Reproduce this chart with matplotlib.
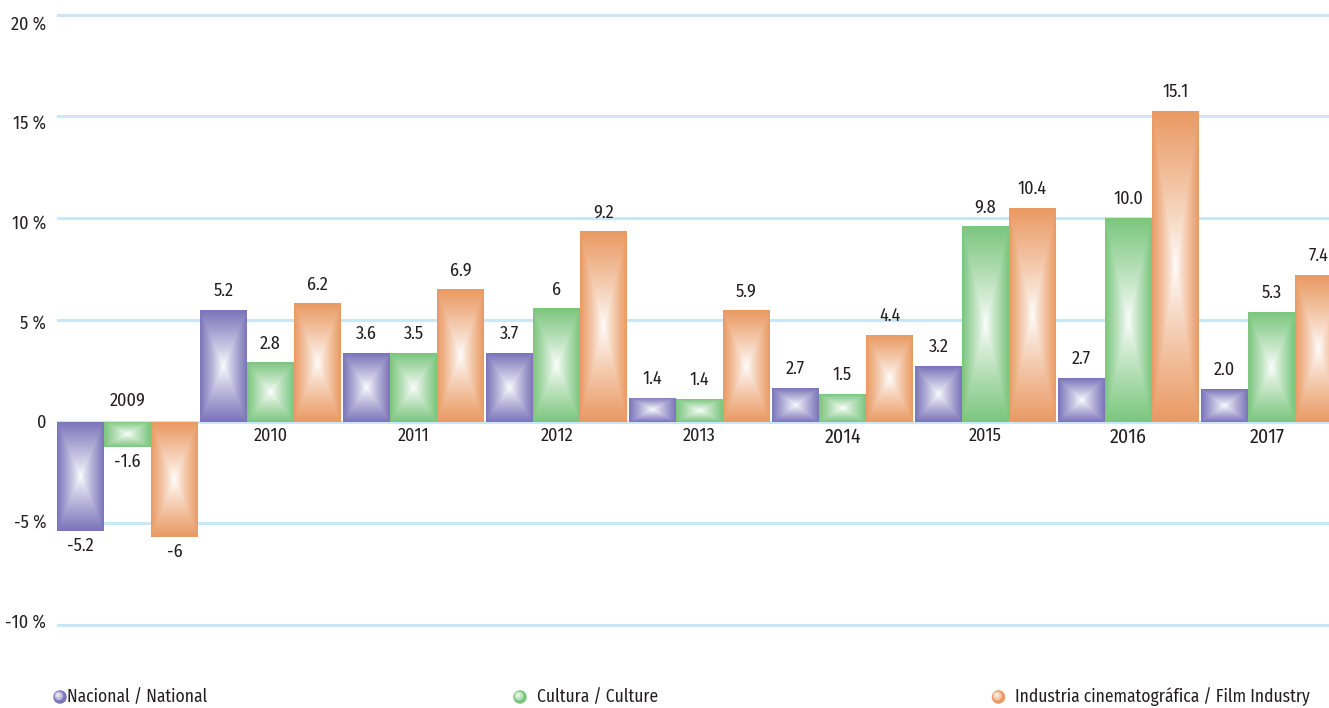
import numpy as np
import matplotlib
matplotlib.use("Agg")
import matplotlib.pyplot as plt
from matplotlib import font_manager
from matplotlib.transforms import blended_transform_factory, offset_copy
from matplotlib.colors import to_rgb

# ---------------- data ----------------
years = ["2009", "2010", "2011", "2012", "2013", "2014", "2015", "2016", "2017"]
series_names = ["Nacional / National", "Cultura / Culture",
                "Industria cinematográfica / Film Industry"]
# bar heights as drawn in the reference (%)
nacional = [-5.36, 5.49, 3.38, 3.38, 1.18, 1.66, 2.74, 2.15, 1.61]
cultura = [-1.23, 2.93, 3.38, 5.58, 1.12, 1.36, 9.62, 10.02, 5.40]
cine = [-5.65, 5.83, 6.52, 9.37, 5.49, 4.26, 10.50, 15.27, 7.21]
# value labels printed on the reference
nacional_lbl = ["-5.2", "5.2", "3.6", "3.7", "1.4", "2.7", "3.2", "2.7", "2.0"]
cultura_lbl = ["-1.6", "2.8", "3.5", "6", "1.4", "1.5", "9.8", "10.0", "5.3"]
cine_lbl = ["-6", "6.2", "6.9", "9.2", "5.9", "4.4", "10.4", "15.1", "7.4"]
y_ticks = [-10, -5, 0, 5, 10, 15, 20]
y_tick_labels = ["-10 %", "-5 %", "0", "5 %", "10 %", "15 %", "20 %"]

colors = ["#7b75ba", "#7cc67e", "#ea9a63"]
grid_color = "#c9e7f7"
text_color = "#231f20"

# ---------------- font ----------------
names = {f.name for f in font_manager.fontManager.ttflist}
candidates = [("Fira Sans Condensed", 13.0), ("PT Sans Narrow", 14.5),
              ("Roboto Condensed", 13.0), ("Liberation Sans Narrow", 14.0),
              ("Open Sans", 11.5)]
FONT, FS = next((n, s) for n, s in candidates if n in names)
plt.rcParams["font.family"] = [FONT, "DejaVu Sans"]

W, H = 1329, 708
fig = plt.figure(figsize=(W / 100, H / 100), dpi=100)
ax = fig.add_axes([57 / W, 0, (W - 57) / W, 1])

x = np.arange(len(years))
bw = 47 / 143
ax.set_xlim(-1.5 * bw, (W - 127.5) / 143)
ax.set_ylim(-(H - 421.7) / 20.35, 421.7 / 20.35)

for v in y_ticks:
    ax.axhline(v, color=grid_color, lw=2.2, zorder=0)


def grad_img(color, n=120):
    c = np.array(to_rgb(color))
    u = np.linspace(-1, 1, n)
    U, V = np.meshgrid(u, u)
    t = np.maximum(np.abs(U), np.abs(V)) ** 0.85
    return (1 - t)[..., None] * np.ones(3) + t[..., None] * c


all_series = [nacional, cultura, cine]
all_labels = [nacional_lbl, cultura_lbl, cine_lbl]
for k, (vals, lbls, col) in enumerate(zip(all_series, all_labels, colors)):
    bars = ax.bar(x + (k - 1) * bw, vals, width=bw, color="none",
                  edgecolor="none", zorder=2)
    img = grad_img(col)
    for b, lbl in zip(bars, lbls):
        x0, w = b.get_x(), b.get_width()
        y0, h = b.get_y(), b.get_height()
        im = ax.imshow(img, extent=[x0, x0 + w, y0, y0 + h], aspect="auto",
                       interpolation="bilinear", zorder=2)
        im.set_clip_path(b)
        top = max(y0 + h, y0)
        bot = min(y0 + h, y0)
        if float(lbl) >= 0:
            ax.annotate(lbl, (x0 + w / 2, top), xytext=(0, 13.5),
                        textcoords="offset points", ha="center", va="center",
                        fontsize=FS, color=text_color, zorder=4)
        else:
            ax.annotate(lbl, (x0 + w / 2, bot), xytext=(0, -11),
                        textcoords="offset points", ha="center", va="center",
                        fontsize=FS, color=text_color, zorder=4)

# year labels
big = {"2014", "2016", "2017"}
for xi, yr in zip(x, years):
    if yr == "2009":
        ax.annotate(yr, (xi, 0), xytext=(0, 15), textcoords="offset points",
                    ha="center", va="center", fontsize=FS, color=text_color)
    else:
        fs = FS * 1.1 if yr in big else FS
        dy = -11.5 if yr in big else -10
        xo = -3 if yr == "2017" else 0
        ax.annotate(yr, (xi, 0), xytext=(xo, dy), textcoords="offset points",
                    ha="center", va="center", fontsize=fs, color=text_color)

# y tick labels
ax.set_yticks([])
ax.set_xticks([])
trans = blended_transform_factory(ax.transAxes, ax.transData)
trans = offset_copy(trans, fig=fig, x=-11, y=0, units="dots")
for v, s in zip(y_ticks, y_tick_labels):
    ax.text(0, v * 0.98 - 0.06, s, transform=trans, ha="right", va="center",
            fontsize=FS, color=text_color, clip_on=False)

for sp in ax.spines.values():
    sp.set_visible(False)
ax.patch.set_alpha(0)

# legend (figure pixel coordinates)
lax = fig.add_axes([0, 0, 1, 1], zorder=5)
lax.set_xlim(0, W)
lax.set_ylim(H, 0)
lax.axis("off")
leg_pos = [(60, 67), (520, 537), (998.5, 1015)]
for (mx, tx), col, name in zip(leg_pos, colors, series_names):
    c = np.array(to_rgb(col))
    lax.scatter([mx], [697], s=95, color=c, edgecolor="none")
    lax.scatter([mx - 1.2], [695.8], s=40, color=0.5 * c + 0.5, edgecolor="none")
    lax.scatter([mx - 1.8], [695.2], s=10, color=0.2 * c + 0.8, edgecolor="none")
    lax.text(tx, 697, name, ha="left", va="center", fontsize=FS * 0.97,
             color=text_color)

fig.savefig("out.png", dpi=100)
